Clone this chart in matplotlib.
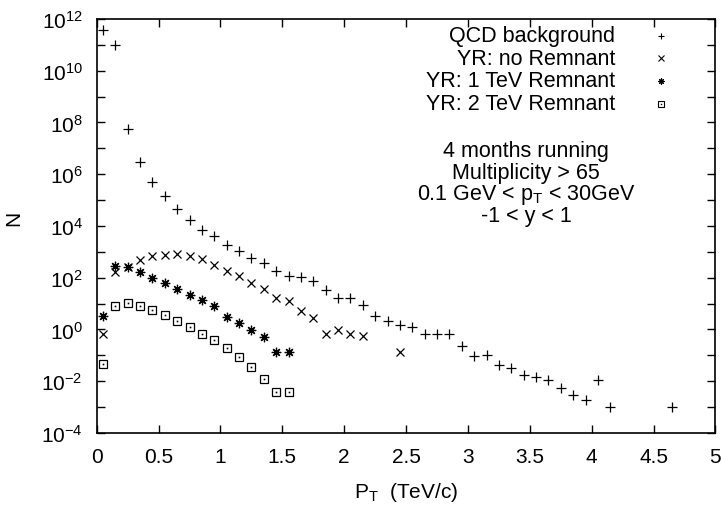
import numpy as np
import matplotlib.pyplot as plt
from matplotlib.ticker import FixedLocator, NullFormatter, FuncFormatter

plt.rcParams['font.family'] = ['Liberation Sans', 'DejaVu Sans']
plt.rcParams['mathtext.default'] = 'regular'
plt.rcParams['font.size'] = 15

# bin centres (TeV/c) and counts
pt_qcd = [0.05, 0.15, 0.25, 0.35, 0.45, 0.55, 0.65, 0.75, 0.85, 0.95,
          1.05, 1.15, 1.25, 1.35, 1.45, 1.55, 1.65, 1.75, 1.85, 1.95,
          2.05, 2.15, 2.25, 2.35, 2.45, 2.55, 2.65, 2.75, 2.85, 2.95,
          3.05, 3.15, 3.25, 3.35, 3.45, 3.55, 3.65, 3.75, 3.85, 3.95,
          4.05, 4.15, 4.65]
n_qcd = [3.7e11, 1.0e11, 5.6e7, 2.9e6, 4.9e5, 1.4e5, 4.6e4, 1.7e4, 7.1e3, 4.0e3,
         1.9e3, 1.05e3, 5.6e2, 3.6e2, 1.8e2, 1.15e2, 1.1e2, 78, 35, 17,
         17, 8.7, 3.4, 2.1, 1.5, 1.3, 0.68, 0.68, 0.68, 0.23,
         0.091, 0.10, 0.042, 0.032, 0.018, 0.014, 0.0115, 0.0056, 0.0029, 0.0019,
         0.0115, 0.001, 0.001]

pt_yr0 = [0.05, 0.15, 0.25, 0.35, 0.45, 0.55, 0.65, 0.75, 0.85, 0.95,
          1.05, 1.15, 1.25, 1.35, 1.45, 1.55, 1.65, 1.75, 1.85, 1.95,
          2.05, 2.15, 2.45]
n_yr0 = [0.68, 162, 270, 490, 680, 760, 830, 710, 525, 316,
         178, 115, 63, 37, 16.6, 12.3, 5.4, 2.75, 0.68, 0.95,
         0.68, 0.55, 0.138]

pt_yr1 = [0.05, 0.15, 0.25, 0.35, 0.45, 0.55, 0.65, 0.75, 0.85, 0.95,
          1.05, 1.15, 1.25, 1.35, 1.45, 1.55]
n_yr1 = [3.2, 295, 270, 162, 98, 63, 37, 22, 14, 8.3,
         2.95, 1.74, 0.95, 0.52, 0.138, 0.138]

pt_yr2 = [0.05, 0.15, 0.25, 0.35, 0.45, 0.55, 0.65, 0.75, 0.85, 0.95,
          1.05, 1.15, 1.25, 1.35, 1.45, 1.55]
n_yr2 = [0.047, 7.9, 10.5, 8.3, 5.6, 3.7, 2.1, 1.3, 0.68, 0.41,
         0.186, 0.085, 0.035, 0.0123, 0.0037, 0.0037]

labels = ['QCD background', 'YR: no Remnant', 'YR: 1 TeV Remnant', 'YR: 2 TeV Remnant']
notes = ['4 months running', 'Multiplicity > 65',
         '0.1 GeV < p$_{T}$ < 30GeV', '-1 < y < 1']

fig = plt.figure(figsize=(7.21, 5.06), dpi=100)
ax = fig.add_axes([0.1341, 0.1423, 0.8582, 0.8182])

ms = 6.5
mew = 0.9
ax.plot(pt_qcd, n_qcd, ls='none', marker='+', ms=ms, mew=mew, color='black')
ax.plot(pt_yr0, n_yr0, ls='none', marker='x', ms=ms * 0.85, mew=mew, color='black')
ax.plot(pt_yr1, n_yr1, ls='none', marker=(8, 2, 0), ms=ms * 1.05, mew=mew, color='black')
ax.plot(pt_yr2, n_yr2, ls='none', marker='s', ms=ms * 0.85, mew=mew, mfc='none', color='black')
ax.plot(pt_yr2, n_yr2, ls='none', marker='s', ms=1.2, mew=0, color='black')

ax.set_yscale('log')
ax.set_xlim(0, 5)
ax.set_ylim(1e-4, 1e12)
ax.set_xticks(np.arange(0, 5.01, 0.5))
ax.xaxis.set_major_formatter(FuncFormatter(lambda v, p: f'{v:g}'))
ax.yaxis.set_major_locator(FixedLocator([10.0 ** k for k in range(-4, 13, 2)]))
ax.yaxis.set_minor_locator(FixedLocator([10.0 ** k for k in range(-3, 12, 2)]))
ax.yaxis.set_minor_formatter(NullFormatter())
ax.yaxis.set_major_formatter(FuncFormatter(lambda v, p: '$10^{%d}$' % round(np.log10(v))))

ax.tick_params(which='both', direction='in', top=True, right=True,
               length=6, width=1.0, labelsize=15)
ax.tick_params(axis='x', pad=10)
ax.tick_params(axis='y', pad=10)
for s in ax.spines.values():
    s.set_linewidth(1.2)

ax.set_xlabel('P$_{T}$  (TeV/c)', fontsize=15, labelpad=10)
ax.set_ylabel('N', fontsize=15)
ax.yaxis.set_label_coords(-0.118, 0.52)

# key in the top right, text right-aligned with marker after it
key_y = [0.960, 0.905, 0.851, 0.795]
key_m = ['+', 'x', (8, 2, 0), 's']
for lab, yy, mk in zip(labels, key_y, key_m):
    ax.text(0.838, yy, lab, transform=ax.transAxes, ha='right', va='center', fontsize=15.5)
    if mk == 's':
        ax.plot([0.912], [yy], transform=ax.transAxes, marker='s', ms=4.2,
                mfc='none', mec='black', mew=0.8, ls='none')
        ax.plot([0.912], [yy], transform=ax.transAxes, marker='s', ms=1.0,
                mew=0, color='black', ls='none')
    else:
        ax.plot([0.912], [yy], transform=ax.transAxes, marker=mk, ms=4.5,
                mew=0.8, color='black', ls='none')

for txt, yy in zip(notes, [0.682, 0.630, 0.577, 0.525]):
    ax.text(0.694, yy, txt, transform=ax.transAxes, ha='center', va='center', fontsize=15.5)

fig.savefig('out.png', dpi=100)
